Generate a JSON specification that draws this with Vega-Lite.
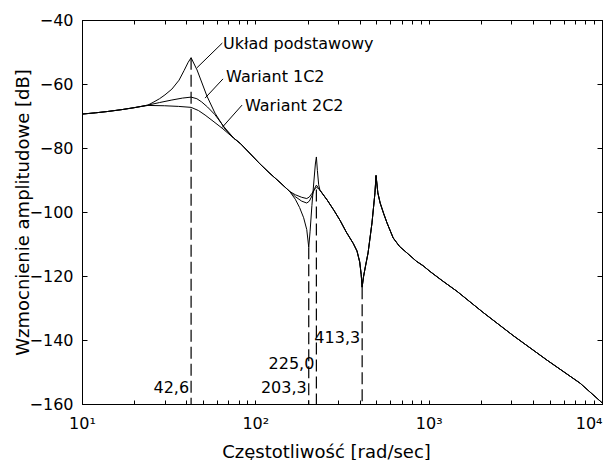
{
  "$schema": "https://vega.github.io/schema/vega-lite/v6.json",
  "width": 520,
  "height": 384,
  "autosize": "none",
  "padding": {"left": 82, "top": 20, "right": 2, "bottom": 56},
  "background": "white",
  "config": {
    "view": {"stroke": "black", "strokeWidth": 1},
    "axis": {
      "domainColor": "black", "tickColor": "black", "labelColor": "black", "titleColor": "black",
      "labelFont": "DejaVu Sans", "labelFontSize": 16, "titleFont": "DejaVu Sans", "titleFontSize": 18,
      "titleFontWeight": "normal", "grid": false, "domainWidth": 1, "tickWidth": 1
    },
    "text": {"font": "DejaVu Sans", "fontSize": 16, "color": "black"}
  },
  "datasets": {
    "curves": [
      {"f": 10, "db": -69.4, "s": "Układ podstawowy"},
      {"f": 12, "db": -69.0, "s": "Układ podstawowy"},
      {"f": 14, "db": -68.6, "s": "Układ podstawowy"},
      {"f": 17, "db": -68.0, "s": "Układ podstawowy"},
      {"f": 20, "db": -67.4, "s": "Układ podstawowy"},
      {"f": 24, "db": -66.6, "s": "Układ podstawowy"},
      {"f": 26, "db": -65.6, "s": "Układ podstawowy"},
      {"f": 28, "db": -64.6, "s": "Układ podstawowy"},
      {"f": 30.1, "db": -63.4, "s": "Układ podstawowy"},
      {"f": 33, "db": -61.6, "s": "Układ podstawowy"},
      {"f": 36.3, "db": -58.8, "s": "Układ podstawowy"},
      {"f": 38.8, "db": -55.8, "s": "Układ podstawowy"},
      {"f": 41, "db": -53.2, "s": "Układ podstawowy"},
      {"f": 42.6, "db": -51.8, "s": "Układ podstawowy"},
      {"f": 46.1, "db": -55.6, "s": "Układ podstawowy"},
      {"f": 52.6, "db": -63.8, "s": "Układ podstawowy"},
      {"f": 58.5, "db": -69.1, "s": "Układ podstawowy"},
      {"f": 66.9, "db": -74.1, "s": "Układ podstawowy"},
      {"f": 75, "db": -76.9, "s": "Układ podstawowy"},
      {"f": 82, "db": -78.6, "s": "Układ podstawowy"},
      {"f": 95, "db": -82.2, "s": "Układ podstawowy"},
      {"f": 106, "db": -84.9, "s": "Układ podstawowy"},
      {"f": 120, "db": -87.7, "s": "Układ podstawowy"},
      {"f": 139, "db": -90.8, "s": "Układ podstawowy"},
      {"f": 158, "db": -93.6, "s": "Układ podstawowy"},
      {"f": 170, "db": -96.0, "s": "Układ podstawowy"},
      {"f": 180, "db": -98.6, "s": "Układ podstawowy"},
      {"f": 190, "db": -101.8, "s": "Układ podstawowy"},
      {"f": 198, "db": -105.5, "s": "Układ podstawowy"},
      {"f": 203.3, "db": -111.0, "s": "Układ podstawowy"},
      {"f": 207, "db": -106.0, "s": "Układ podstawowy"},
      {"f": 212, "db": -98.0, "s": "Układ podstawowy"},
      {"f": 218, "db": -90.0, "s": "Układ podstawowy"},
      {"f": 222, "db": -85.0, "s": "Układ podstawowy"},
      {"f": 225, "db": -82.8, "s": "Układ podstawowy"},
      {"f": 228, "db": -87.0, "s": "Układ podstawowy"},
      {"f": 232, "db": -91.5, "s": "Układ podstawowy"},
      {"f": 236, "db": -93.2, "s": "Układ podstawowy"},
      {"f": 260, "db": -96.3, "s": "Układ podstawowy"},
      {"f": 285, "db": -99.6, "s": "Układ podstawowy"},
      {"f": 308, "db": -102.6, "s": "Układ podstawowy"},
      {"f": 335, "db": -106.3, "s": "Układ podstawowy"},
      {"f": 367, "db": -109.8, "s": "Układ podstawowy"},
      {"f": 386, "db": -112.2, "s": "Układ podstawowy"},
      {"f": 400, "db": -115.6, "s": "Układ podstawowy"},
      {"f": 408, "db": -119.5, "s": "Układ podstawowy"},
      {"f": 413.3, "db": -123.5, "s": "Układ podstawowy"},
      {"f": 420, "db": -120.5, "s": "Układ podstawowy"},
      {"f": 430, "db": -117.5, "s": "Układ podstawowy"},
      {"f": 447, "db": -112.8, "s": "Układ podstawowy"},
      {"f": 471, "db": -103.4, "s": "Układ podstawowy"},
      {"f": 490, "db": -94.0, "s": "Układ podstawowy"},
      {"f": 497, "db": -88.6, "s": "Układ podstawowy"},
      {"f": 509, "db": -94.0, "s": "Układ podstawowy"},
      {"f": 525, "db": -97.2, "s": "Układ podstawowy"},
      {"f": 550, "db": -100.5, "s": "Układ podstawowy"},
      {"f": 575, "db": -103.4, "s": "Układ podstawowy"},
      {"f": 624, "db": -108.1, "s": "Układ podstawowy"},
      {"f": 680, "db": -110.8, "s": "Układ podstawowy"},
      {"f": 750, "db": -112.8, "s": "Układ podstawowy"},
      {"f": 850, "db": -115.4, "s": "Układ podstawowy"},
      {"f": 929, "db": -116.8, "s": "Układ podstawowy"},
      {"f": 1019, "db": -118.6, "s": "Układ podstawowy"},
      {"f": 1200, "db": -121.5, "s": "Układ podstawowy"},
      {"f": 1458, "db": -124.8, "s": "Układ podstawowy"},
      {"f": 2062, "db": -131.4, "s": "Układ podstawowy"},
      {"f": 3069, "db": -138.6, "s": "Układ podstawowy"},
      {"f": 4819, "db": -146.3, "s": "Układ podstawowy"},
      {"f": 7477, "db": -153.5, "s": "Układ podstawowy"},
      {"f": 10000, "db": -159.6, "s": "Układ podstawowy"},

      {"f": 10, "db": -69.4, "s": "Wariant 1C2"},
      {"f": 12, "db": -69.0, "s": "Wariant 1C2"},
      {"f": 14, "db": -68.6, "s": "Wariant 1C2"},
      {"f": 17, "db": -68.0, "s": "Wariant 1C2"},
      {"f": 20, "db": -67.4, "s": "Wariant 1C2"},
      {"f": 24, "db": -66.6, "s": "Wariant 1C2"},
      {"f": 28, "db": -65.8, "s": "Wariant 1C2"},
      {"f": 33, "db": -65.0, "s": "Wariant 1C2"},
      {"f": 38, "db": -64.4, "s": "Wariant 1C2"},
      {"f": 42.6, "db": -64.1, "s": "Wariant 1C2"},
      {"f": 46, "db": -64.6, "s": "Wariant 1C2"},
      {"f": 49, "db": -65.6, "s": "Wariant 1C2"},
      {"f": 53, "db": -67.2, "s": "Wariant 1C2"},
      {"f": 58.5, "db": -69.6, "s": "Wariant 1C2"},
      {"f": 66, "db": -73.4, "s": "Wariant 1C2"},
      {"f": 75, "db": -76.9, "s": "Wariant 1C2"},
      {"f": 82, "db": -78.6, "s": "Wariant 1C2"},
      {"f": 95, "db": -82.2, "s": "Wariant 1C2"},
      {"f": 106, "db": -84.9, "s": "Wariant 1C2"},
      {"f": 120, "db": -87.7, "s": "Wariant 1C2"},
      {"f": 139, "db": -90.8, "s": "Wariant 1C2"},
      {"f": 158, "db": -93.6, "s": "Wariant 1C2"},
      {"f": 170, "db": -95.2, "s": "Wariant 1C2"},
      {"f": 185, "db": -96.6, "s": "Wariant 1C2"},
      {"f": 198, "db": -97.2, "s": "Wariant 1C2"},
      {"f": 205, "db": -96.6, "s": "Wariant 1C2"},
      {"f": 212, "db": -95.0, "s": "Wariant 1C2"},
      {"f": 220, "db": -92.6, "s": "Wariant 1C2"},
      {"f": 225, "db": -91.6, "s": "Wariant 1C2"},
      {"f": 230, "db": -92.3, "s": "Wariant 1C2"},
      {"f": 236, "db": -93.2, "s": "Wariant 1C2"},
      {"f": 260, "db": -96.3, "s": "Wariant 1C2"},
      {"f": 285, "db": -99.6, "s": "Wariant 1C2"},
      {"f": 308, "db": -102.6, "s": "Wariant 1C2"},
      {"f": 335, "db": -106.3, "s": "Wariant 1C2"},
      {"f": 367, "db": -109.8, "s": "Wariant 1C2"},
      {"f": 386, "db": -112.2, "s": "Wariant 1C2"},
      {"f": 400, "db": -115.6, "s": "Wariant 1C2"},
      {"f": 408, "db": -119.5, "s": "Wariant 1C2"},
      {"f": 413.3, "db": -123.5, "s": "Wariant 1C2"},
      {"f": 420, "db": -120.5, "s": "Wariant 1C2"},
      {"f": 430, "db": -117.5, "s": "Wariant 1C2"},
      {"f": 447, "db": -112.8, "s": "Wariant 1C2"},
      {"f": 471, "db": -103.4, "s": "Wariant 1C2"},
      {"f": 490, "db": -94.0, "s": "Wariant 1C2"},
      {"f": 497, "db": -88.6, "s": "Wariant 1C2"},
      {"f": 509, "db": -94.0, "s": "Wariant 1C2"},
      {"f": 525, "db": -97.2, "s": "Wariant 1C2"},
      {"f": 550, "db": -100.5, "s": "Wariant 1C2"},
      {"f": 575, "db": -103.4, "s": "Wariant 1C2"},
      {"f": 624, "db": -108.1, "s": "Wariant 1C2"},
      {"f": 680, "db": -110.8, "s": "Wariant 1C2"},
      {"f": 750, "db": -112.8, "s": "Wariant 1C2"},
      {"f": 850, "db": -115.4, "s": "Wariant 1C2"},
      {"f": 929, "db": -116.8, "s": "Wariant 1C2"},
      {"f": 1019, "db": -118.6, "s": "Wariant 1C2"},
      {"f": 1200, "db": -121.5, "s": "Wariant 1C2"},
      {"f": 1458, "db": -124.8, "s": "Wariant 1C2"},
      {"f": 2062, "db": -131.4, "s": "Wariant 1C2"},
      {"f": 3069, "db": -138.6, "s": "Wariant 1C2"},
      {"f": 4819, "db": -146.3, "s": "Wariant 1C2"},
      {"f": 7477, "db": -153.5, "s": "Wariant 1C2"},
      {"f": 10000, "db": -159.6, "s": "Wariant 1C2"},

      {"f": 10, "db": -69.4, "s": "Wariant 2C2"},
      {"f": 12, "db": -69.0, "s": "Wariant 2C2"},
      {"f": 14, "db": -68.6, "s": "Wariant 2C2"},
      {"f": 17, "db": -68.0, "s": "Wariant 2C2"},
      {"f": 20, "db": -67.4, "s": "Wariant 2C2"},
      {"f": 24, "db": -66.7, "s": "Wariant 2C2"},
      {"f": 30, "db": -66.8, "s": "Wariant 2C2"},
      {"f": 36, "db": -67.0, "s": "Wariant 2C2"},
      {"f": 42.6, "db": -67.3, "s": "Wariant 2C2"},
      {"f": 47, "db": -68.3, "s": "Wariant 2C2"},
      {"f": 51.3, "db": -69.7, "s": "Wariant 2C2"},
      {"f": 57, "db": -71.6, "s": "Wariant 2C2"},
      {"f": 64.3, "db": -73.8, "s": "Wariant 2C2"},
      {"f": 75, "db": -76.9, "s": "Wariant 2C2"},
      {"f": 82, "db": -78.6, "s": "Wariant 2C2"},
      {"f": 95, "db": -82.2, "s": "Wariant 2C2"},
      {"f": 106, "db": -84.9, "s": "Wariant 2C2"},
      {"f": 120, "db": -87.7, "s": "Wariant 2C2"},
      {"f": 139, "db": -90.8, "s": "Wariant 2C2"},
      {"f": 158, "db": -93.6, "s": "Wariant 2C2"},
      {"f": 170, "db": -94.6, "s": "Wariant 2C2"},
      {"f": 185, "db": -95.4, "s": "Wariant 2C2"},
      {"f": 198, "db": -95.8, "s": "Wariant 2C2"},
      {"f": 205, "db": -95.3, "s": "Wariant 2C2"},
      {"f": 212, "db": -94.2, "s": "Wariant 2C2"},
      {"f": 220, "db": -92.8, "s": "Wariant 2C2"},
      {"f": 225, "db": -92.3, "s": "Wariant 2C2"},
      {"f": 230, "db": -92.6, "s": "Wariant 2C2"},
      {"f": 236, "db": -93.2, "s": "Wariant 2C2"},
      {"f": 260, "db": -96.3, "s": "Wariant 2C2"},
      {"f": 285, "db": -99.6, "s": "Wariant 2C2"},
      {"f": 308, "db": -102.6, "s": "Wariant 2C2"},
      {"f": 335, "db": -106.3, "s": "Wariant 2C2"},
      {"f": 367, "db": -109.8, "s": "Wariant 2C2"},
      {"f": 386, "db": -112.2, "s": "Wariant 2C2"},
      {"f": 400, "db": -115.6, "s": "Wariant 2C2"},
      {"f": 408, "db": -119.5, "s": "Wariant 2C2"},
      {"f": 413.3, "db": -123.5, "s": "Wariant 2C2"},
      {"f": 420, "db": -120.5, "s": "Wariant 2C2"},
      {"f": 430, "db": -117.5, "s": "Wariant 2C2"},
      {"f": 447, "db": -112.8, "s": "Wariant 2C2"},
      {"f": 471, "db": -103.4, "s": "Wariant 2C2"},
      {"f": 490, "db": -94.0, "s": "Wariant 2C2"},
      {"f": 497, "db": -88.6, "s": "Wariant 2C2"},
      {"f": 509, "db": -94.0, "s": "Wariant 2C2"},
      {"f": 525, "db": -97.2, "s": "Wariant 2C2"},
      {"f": 550, "db": -100.5, "s": "Wariant 2C2"},
      {"f": 575, "db": -103.4, "s": "Wariant 2C2"},
      {"f": 624, "db": -108.1, "s": "Wariant 2C2"},
      {"f": 680, "db": -110.8, "s": "Wariant 2C2"},
      {"f": 750, "db": -112.8, "s": "Wariant 2C2"},
      {"f": 850, "db": -115.4, "s": "Wariant 2C2"},
      {"f": 929, "db": -116.8, "s": "Wariant 2C2"},
      {"f": 1019, "db": -118.6, "s": "Wariant 2C2"},
      {"f": 1200, "db": -121.5, "s": "Wariant 2C2"},
      {"f": 1458, "db": -124.8, "s": "Wariant 2C2"},
      {"f": 2062, "db": -131.4, "s": "Wariant 2C2"},
      {"f": 3069, "db": -138.6, "s": "Wariant 2C2"},
      {"f": 4819, "db": -146.3, "s": "Wariant 2C2"},
      {"f": 7477, "db": -153.5, "s": "Wariant 2C2"},
      {"f": 10000, "db": -159.6, "s": "Wariant 2C2"}
    ],
    "vlines": [
      {"f": 42.6, "top": -51.8, "label": "42,6", "ly": -155},
      {"f": 203.3, "top": -111.0, "label": "203,3", "ly": -155},
      {"f": 225.0, "top": -93.0, "label": "225,0", "ly": -147.5},
      {"f": 413.3, "top": -123.5, "label": "413,3", "ly": -139.4}
    ],
    "names": [
      {"f": 65.1, "db": -47.5, "text": "Układ podstawowy"},
      {"f": 67.8, "db": -57.8, "text": "Wariant 1C2"},
      {"f": 87.2, "db": -66.9, "text": "Wariant 2C2"}
    ],
    "leaders": [
      {"f": 64.5, "db": -47.2, "id": "a"},
      {"f": 46.1, "db": -54.9, "id": "a"},
      {"f": 65.1, "db": -58.4, "id": "b"},
      {"f": 51.3, "db": -64.4, "id": "b"},
      {"f": 83.8, "db": -66.6, "id": "c"},
      {"f": 64.3, "db": -73.6, "id": "c"}
    ]
  },
  "layer": [
    {
      "data": {"name": "curves"},
      "mark": {"type": "line", "color": "black", "strokeWidth": 1},
      "encoding": {
        "x": {
          "field": "f", "type": "quantitative",
          "scale": {"type": "log", "domain": [10, 10000], "nice": false},
          "axis": {
            "orient": "bottom",
            "values": [10, 20, 30, 40, 50, 60, 70, 80, 90, 100, 200, 300, 400, 500, 600, 700, 800, 900, 1000, 2000, 3000, 4000, 5000, 6000, 7000, 8000, 9000, 10000],
            "labelExpr": "datum.value == 10 ? '10¹' : datum.value == 100 ? '10²' : datum.value == 1000 ? '10³' : datum.value == 10000 ? '10⁴' : ''",
            "tickSize": -4,
            "labelAlign": {"condition": {"test": "datum.value >= 10000", "value": "right"}, "value": "center"},
            "labelPadding": 15,
            "labelFlush": false,
            "labelOverlap": false,
            "title": "Częstotliwość  [rad/sec]",
            "titlePadding": 12,
            "titleX": 244
          }
        },
        "y": {
          "field": "db", "type": "quantitative",
          "scale": {"domain": [-160, -40], "nice": false, "zero": false},
          "axis": {
            "orient": "left",
            "values": [-160, -140, -120, -100, -80, -60, -40],
            "tickSize": -5,
            "labelPadding": 14,
            "labelFlush": false,
            "title": "Wzmocnienie amplitudowe [dB]",
            "titlePadding": -3
          }
        },
        "detail": {"field": "s", "type": "nominal"}
      }
    },
    {
      "data": {"name": "vlines"},
      "mark": {"type": "rule", "color": "black", "strokeWidth": 1.2, "strokeDash": [12, 5]},
      "encoding": {
        "x": {
          "field": "f", "type": "quantitative",
          "axis": {
            "orient": "top", "labels": false, "title": null,
            "values": [10, 20, 30, 40, 50, 60, 70, 80, 90, 100, 200, 300, 400, 500, 600, 700, 800, 900, 1000, 2000, 3000, 4000, 5000, 6000, 7000, 8000, 9000, 10000],
            "tickSize": -4
          }
        },
        "y": {
          "field": "top", "type": "quantitative",
          "axis": {"orient": "right", "labels": false, "title": null, "values": [-160, -140, -120, -100, -80, -60, -40], "tickSize": -5}
        },
        "y2": {"datum": -160}
      }
    },
    {
      "data": {"name": "vlines"},
      "mark": {"type": "text", "align": "right", "baseline": "middle", "dx": -2},
      "encoding": {
        "x": {"field": "f", "type": "quantitative", "axis": null},
        "y": {"field": "ly", "type": "quantitative", "axis": null},
        "text": {"field": "label"}
      }
    },
    {
      "data": {"name": "names"},
      "mark": {"type": "text", "align": "left", "baseline": "middle"},
      "encoding": {
        "x": {"field": "f", "type": "quantitative", "axis": null},
        "y": {"field": "db", "type": "quantitative", "axis": null},
        "text": {"field": "text"}
      }
    },
    {
      "data": {"name": "leaders"},
      "mark": {"type": "line", "color": "black", "strokeWidth": 1},
      "encoding": {
        "x": {"field": "f", "type": "quantitative", "axis": null},
        "y": {"field": "db", "type": "quantitative", "axis": null},
        "detail": {"field": "id", "type": "nominal"}
      }
    }
  ],
  "resolve": {"axis": {"x": "independent", "y": "independent"}}
}
